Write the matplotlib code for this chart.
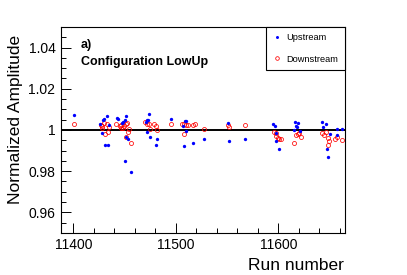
"""Normalized amplitude vs run number, configuration LowUp (ROOT-style look)."""
import matplotlib
matplotlib.use("Agg")
import matplotlib.pyplot as plt
from matplotlib.ticker import MultipleLocator, FuncFormatter

plt.rcParams["font.family"] = ["Liberation Sans", "DejaVu Sans"]

# upstream detector (filled blue)
up_run = [11401, 11426, 11429, 11430, 11433, 11428, 11431, 11434, 11435,
          11443, 11444, 11447, 11448, 11450, 11451, 11451, 11453, 11450, 11456,
          11471, 11472, 11473, 11474, 11472, 11475, 11482, 11481, 11495,
          11508, 11508.5, 11510, 11507, 11510, 11517, 11527,
          11551, 11552, 11567,
          11595, 11596.5, 11598, 11597.6, 11601,
          11616, 11619, 11617.5, 11618.5, 11615, 11621,
          11642, 11646, 11643, 11650, 11647.5, 11648.5, 11656.6, 11661.5, 11657]
up_amp = [1.0071, 1.0027, 1.0048, 1.0052, 1.0066, 0.9984, 0.9925, 0.9925, 1.0024,
          1.0059, 1.0054, 1.0032, 1.0037, 1.0047, 1.0069, 0.9965, 0.9955, 0.9851, 0.9796,
          1.0037, 1.0050, 1.0050, 1.0075, 0.9989, 0.9965, 0.9956, 0.9928, 1.0053,
          0.9922, 1.0042, 1.0042, 1.0020, 0.9997, 0.9937, 0.9955,
          1.0033, 0.9946, 0.9956,
          1.0027, 1.0021, 0.9987, 0.9944, 0.9907,
          1.0039, 1.0035, 1.0019, 1.0013, 1.0002, 0.9994,
          1.0039, 1.0027, 1.0012, 0.9981, 0.9907, 0.9869, 1.0003, 1.0005, 0.9975]

# downstream detector (open red)
down_run = [11401, 11427, 11428, 11430, 11433, 11435, 11428, 11431, 11434,
            11442, 11445, 11446.5, 11449, 11451, 11452, 11446, 11448, 11453.4, 11454.6,
            11451, 11456,
            11470, 11472, 11474, 11475, 11479, 11481, 11481.5, 11495,
            11506, 11508, 11510, 11512, 11508, 11517, 11518.5, 11527,
            11551, 11552, 11567,
            11596, 11597.5, 11598, 11600, 11601, 11602.6,
            11615, 11617.5, 11619, 11620, 11621.5,
            11642.5, 11644, 11646.5, 11648.5, 11649.5, 11648, 11655, 11657.5, 11661.5]
down_amp = [1.0029, 1.0026, 1.0021, 1.0032, 1.0027, 1.0013, 1.0008, 0.9979, 0.9988,
            1.0027, 1.0021, 1.0023, 1.0021, 1.0027, 1.0032, 1.0011, 1.0011, 0.9992, 1.0006,
            0.9965, 0.9939,
            1.0037, 1.0029, 1.0031, 1.0004, 1.0027, 1.0021, 1.0002, 1.0028,
            1.0027, 1.0027, 1.0026, 1.0023, 0.9982, 1.0022, 1.0030, 1.0006,
            1.0024, 1.0013, 1.0022,
            0.9992, 0.9984, 0.9972, 0.9963, 0.9954, 0.9955,
            0.9939, 0.9974, 0.9981, 0.9986, 0.9965,
            0.9984, 0.9973, 0.9989, 0.9963, 0.9948, 0.9929, 0.9958, 0.9965, 0.9953]

fig = plt.figure(figsize=(4.07, 2.75), dpi=100)
ax = fig.add_axes([0.150, 0.153, 0.698, 0.749])

ax.axhline(1.0, color="k", lw=1.4, zorder=1)
ax.plot(up_run, up_amp, ls="none", marker="o", ms=2.4, mfc="#0000ff",
        mec="#0000ff", mew=0, label="Upstream", zorder=3)
ax.plot(down_run, down_amp, ls="none", marker="o", ms=2.9, mfc="none",
        mec="#ff0000", mew=0.55, label="Downstream", zorder=2)

ax.set_xlim(11388, 11665)
ax.set_ylim(0.95, 1.05)
ax.xaxis.set_major_locator(MultipleLocator(100))
ax.xaxis.set_minor_locator(MultipleLocator(20))
ax.yaxis.set_major_locator(MultipleLocator(0.02))
ax.yaxis.set_minor_locator(MultipleLocator(0.005))
ax.yaxis.set_major_formatter(FuncFormatter(lambda v, p: f"{v:g}"))
ax.tick_params(which="both", direction="in", top=False, right=False,
               labelsize=10, width=0.7, colors="k")
ax.tick_params(which="major", length=7, pad=4)
ax.tick_params(which="minor", length=3.5)
for s in ax.spines.values():
    s.set_linewidth(0.8)

fig.text(16 / 407, 1 - 35 / 275, "Normalized Amplitude", rotation=90,
         ha="center", va="top", fontsize=12.5)
fig.text(344 / 407, 1 - 265 / 275, "Run number", ha="right", va="center",
         fontsize=12.5)

ax.text(80.7 / 407, 1 - 45 / 275, "a)", transform=fig.transFigure,
        fontsize=9, fontweight="bold", va="center")
ax.text(80.7 / 407, 1 - 62 / 275, "Configuration LowUp", transform=fig.transFigure,
        fontsize=9, fontweight="bold", va="center")

leg = ax.legend(loc="upper right", bbox_to_anchor=(1.0, 1.0), borderaxespad=0,
                fontsize=6.7, fancybox=False, edgecolor="k", framealpha=1,
                labelspacing=1.3, handlelength=0.8, handletextpad=0.7,
                borderpad=0.7, markerscale=0.9)
leg.get_frame().set_linewidth(0.8)

fig.savefig("out.png", dpi=100)
